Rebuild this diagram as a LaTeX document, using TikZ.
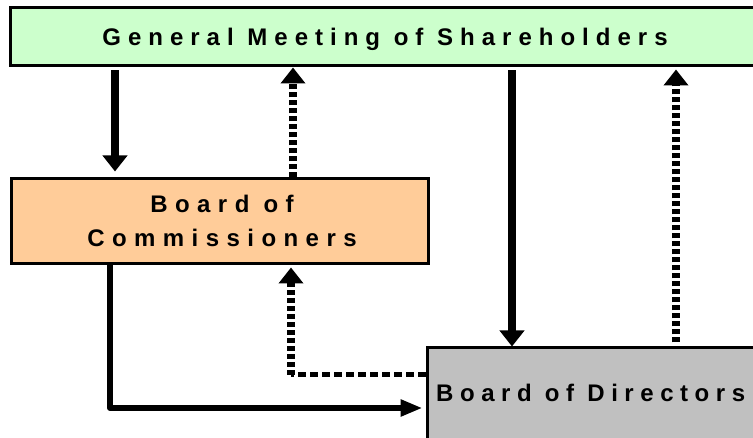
\documentclass[tikz,border=0pt]{standalone}
\usepackage{fontspec}
\usetikzlibrary{arrows.meta,calc}
\newfontfamily\gfont{Liberation Sans}[LetterSpace=29.2]
\newfontfamily\ofont{Liberation Sans}[LetterSpace=31]
\newfontfamily\dfont{Liberation Sans}[LetterSpace=27.3]
\definecolor{gbox}{HTML}{CCFFCC}
\definecolor{obox}{HTML}{FFCC99}
\definecolor{dbox}{HTML}{C0C0C0}
\begin{document}
\begin{tikzpicture}[x=1pt,y=-1pt,
  box/.style={draw=black,line width=3pt,inner sep=0pt,rectangle},
  lbl/.style={inner sep=0pt,font=\fontsize{24}{34}\selectfont\bfseries},
  solidv/.style={line width=8pt,-{Triangle[width=24pt,length=16pt]}},
  solidh/.style={line width=6pt,-{Triangle[width=16pt,length=22pt]}},
  dotv/.style={line width=8pt,dash pattern=on 5pt off 3pt,-{Triangle[width=24pt,length=16pt]}},
  doth/.style={line width=5pt,dash pattern=on 8pt off 4pt}
]
\useasboundingbox (0,0) rectangle (753,438);
\node[box,fill=gbox,minimum width=780pt,minimum height=58pt] (gms) at (400,37) {};
\node[box,fill=obox,minimum width=417pt,minimum height=85pt] (boc) at (219.5,221.5) {};
\node[box,fill=dbox,minimum width=373pt,minimum height=122pt] (bod) at (613.5,409) {};
\node[lbl,anchor=base] (gmst) at (385,46) {\gfont General Meeting of Shareholders};
\node[lbl,anchor=base,align=center] (boct) at (222,213) {\ofont Board of};
\node[lbl,anchor=base,align=center] (boct2) at (222,247) {\ofont Commissioners};
\node[lbl,anchor=base west] (bodt) at (436,402) {\dfont Board of Directors};
\coordinate (xa) at (115,0);
\coordinate (xb) at (293,0);
\coordinate (xc) at (512,0);
\coordinate (xd) at (676,0);
\coordinate (xe) at (110,0);
\coordinate (xf) at (291,0);
\coordinate (ya) at (0,408);
\coordinate (yb) at (0,375);
% GMS -> BoC
\draw[solidv,shorten <=3pt,shorten >=6pt] (gms.south -| xa) -- (boc.north -| xa);
% BoC -> GMS dotted
\draw[dotv] (boc.north -| xb) -- (gms.south -| xb);
% GMS -> BoD
\draw[solidv,shorten <=3pt] (gms.south -| xc) -- (bod.north -| xc);
% BoD -> GMS dotted
\draw[dotv,shorten <=4pt,shorten >=2pt] (bod.north -| xd) -- (gms.south -| xd);
% BoC -> BoD
\draw[solidh,line join=round,shorten >=3pt] (boc.south -| xe) |- (bod.west |- ya);
% BoD -> BoC dotted
\draw[doth] (bod.west |- yb) -- (xf |- yb);
\draw[dotv,shorten >=2pt] (xf |- yb) -- (boc.south -| xf);
\end{tikzpicture}
\end{document}
